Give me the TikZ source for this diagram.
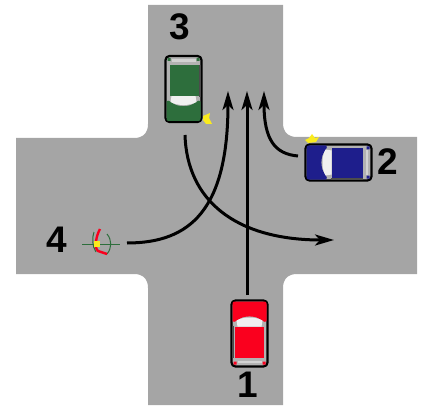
\documentclass[tikz,border=0pt]{standalone}
\usepackage{fontspec}
\setmainfont{Liberation Sans}
\usetikzlibrary{arrows.meta}
\definecolor{roadgray}{RGB}{165,165,165}
\definecolor{carred}{RGB}{250,0,30}
\definecolor{cargreen}{RGB}{45,110,60}
\definecolor{carblue}{RGB}{30,30,140}
\definecolor{blink}{RGB}{250,235,30}
\tikzset{
    x=1pt,y=-1pt,
    number/.style={font=\fontsize{37}{37}\selectfont\bfseries,text=black,inner sep=0pt},
    route/.style={line width=3pt,draw=black,-{Stealth[length=19pt,width=11pt,inset=5pt]}},
    autocar/.pic={
        % body, heading up
        \draw [line width=2.2pt,fill=roadgray!85!white,rounded corners=4pt] (-18,-33) rectangle (18,33);
        \fill [#1,rounded corners=2pt] (-17,-32) -- (17,-32) -- (17,-11) -- (12,-13) .. controls (6,-18) and (-6,-18) .. (-12,-13) -- (-17,-11) -- cycle;
        \fill [white!88!gray] (-13,-13) .. controls (-6,-17) and (6,-17) .. (13,-13) -- (12,-7) -- (-12,-7) -- cycle;
        \fill [#1] (-15,-7) rectangle (14,24);
        \draw [line width=1.3pt,draw=black!70] (-16.5,-8) -- (-16.5,24);
        \fill [white!65!gray] (-12,27) rectangle (12,29.5);
        \fill [#1] (-16,28) rectangle (-13,31) (13,28) rectangle (16,31);
    },
}
\begin{document}
\begin{tikzpicture}
    \useasboundingbox (0,0) rectangle (423,409);
    % crossroads
    \fill [roadgray] (148,5) -- (148,124) .. controls (148,133) and (143,138) .. (134,138)
        -- (16,138) -- (16,274) -- (134,274) .. controls (143,274) and (148,279) .. (148,288)
        -- (148,405) -- (283,405) -- (283,288) .. controls (283,279) and (288,274) .. (297,274)
        -- (417,274) -- (417,137) -- (297,137) .. controls (288,137) and (283,132) .. (283,123)
        -- (283,5) -- cycle;
    % cars
    \path (249.5,333.5) pic {autocar=carred};
    \path (183.5,89) pic [rotate=180] {autocar=cargreen};
    \path (338.5,162.5) pic [rotate=90] {autocar=carblue};
    % indicators
    \fill [blink] (203,116) -- (210,113) -- (209,118) -- (212,124) -- (206,124) -- (203,120) -- cycle;
    \fill [blink] (305,140) -- (309,138) -- (312,134) -- (315,138) -- (319,137) -- (316,142) -- (308,143) -- cycle;
    % bicycle
    \draw [line width=.7pt,draw=cargreen] (82,244) -- (120,244);
    \draw [line width=1pt,draw=cargreen] (107,234) .. controls (112,240) and (112,248) .. (107,254);
    \draw [line width=1pt,draw=cargreen] (94,232) .. controls (92,238) and (92,246) .. (96,252);
    \draw [line width=2.4pt,draw=carred] (100,229) .. controls (96,236) and (94,248) .. (98,251) -- (107,254);
    \fill [blink] (93.5,241) rectangle (99.5,247);
    % numbers
    \node [number] (one) at (248,385) {1};
    \node [number] (two) at (388,162) {2};
    \node [number] (three) at (180,27) {3};
    \node [number] (four) at (57,240) {4};
    % routes
    \coordinate (s1) at (247,295);
    \coordinate (e1) at (247,91);
    \coordinate (s2) at (298,156);
    \coordinate (e2) at (264,91);
    \coordinate (s3) at (185,135);
    \coordinate (e3) at (334,240);
    \coordinate (s4) at (127,243);
    \coordinate (e4) at (228,91);
    \draw [route] (s1) -- (e1);
    \draw [route] (s2) .. controls (275,154) and (264,140) .. (e2);
    \draw [route] (s3) .. controls (187,200) and (235,240) .. (e3);
    \draw [route] (s4) .. controls (190,243) and (228,210) .. (e4);
\end{tikzpicture}
\end{document}
